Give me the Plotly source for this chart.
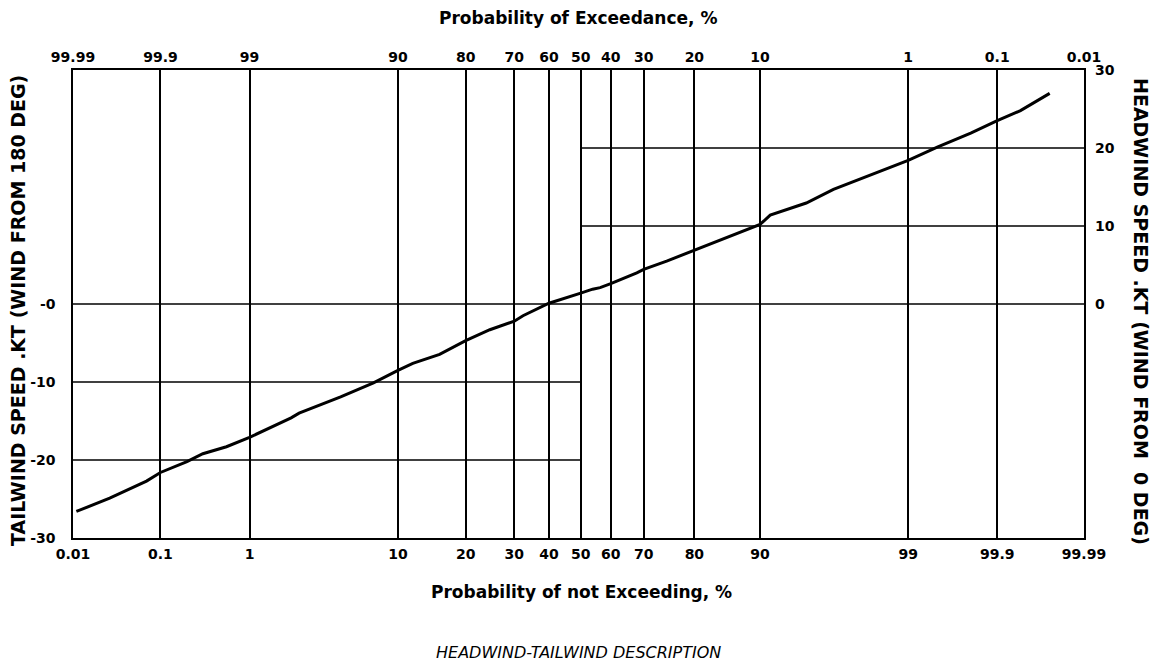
import numpy as np
import plotly.graph_objects as go
from statistics import NormalDist

# ---- axis definition (probability of NOT exceeding, %) ----
TICK_PCT = [0.01, 0.1, 1, 10, 20, 30, 40, 50, 60, 70, 80, 90, 99, 99.9, 99.99]
BOTTOM_LABELS = ["0.01", "0.1", "1", "10", "20", "30", "40", "50", "60", "70", "80", "90", "99", "99.9", "99.99"]
TOP_LABELS = ["99.99", "99.9", "99", "90", "80", "70", "60", "50", "40", "30", "20", "10", "1", "0.1", "0.01"]
# fractional position of each probability tick along the chart's probability scale
TICK_POS = [0.0, 0.0865, 0.1746, 0.3214, 0.3884, 0.4365, 0.4708, 0.5022,
            0.5319, 0.5645, 0.6146, 0.6796, 0.8261, 0.9142, 1.0]

LEFT_TICKS = [-30, -20, -10, 0]
LEFT_LABELS = ["-30", "-20", "-10", "-0"]
RIGHT_TICKS = [0, 10, 20, 30]
RIGHT_LABELS = ["0", "10", "20", "30"]

# ---- data: probability of not exceeding (%) vs wind speed (kt) ----
PROB = [0.011, 0.0275, 0.071, 0.1, 0.21, 0.32, 0.58, 1, 2.1, 2.4, 4.6, 7.3, 10,
        11.8, 15.6, 17.3, 20, 24.7, 30, 32.4, 40, 50, 54, 56.5, 60, 68, 70,
        74.8, 80, 85.5, 90, 91.2, 94.6, 96.4, 98.2, 99, 99.5, 99.79, 99.9,
        99.944, 99.974]
SPEED = [-26.6, -24.9, -22.7, -21.6, -20.2, -19.2, -18.3, -17.1, -14.6, -14.0,
         -11.9, -10.1, -8.5, -7.6, -6.45, -5.7, -4.7, -3.3, -2.2, -1.5, 0.1,
         1.4, 1.9, 2.1, 2.6, 4.0, 4.45, 5.5, 6.9, 8.45, 10.2, 11.4, 12.95,
         14.7, 16.8, 18.4, 20.1, 21.9, 23.5, 24.8, 27.0]

nd = NormalDist()
TICK_Z = [nd.inv_cdf(p / 100.0) for p in TICK_PCT]


def prob_scale(pcts):
    z = [nd.inv_cdf(p / 100.0) for p in pcts]
    return np.interp(z, TICK_Z, TICK_POS)


x_curve = prob_scale(PROB)
x50 = float(prob_scale([50])[0])

FONT = "DejaVu Sans, Liberation Sans, Arial, sans-serif"

fig = go.Figure()
fig.add_trace(go.Scatter(x=x_curve, y=SPEED, mode="lines",
                         line=dict(color="black", width=3),
                         showlegend=False, hoverinfo="skip",
                         xaxis="x", yaxis="y"))
# invisible trace so the top / right axes are drawn
fig.add_trace(go.Scatter(x=x_curve, y=SPEED, mode="lines",
                         line=dict(color="rgba(0,0,0,0)", width=0),
                         showlegend=False, hoverinfo="skip",
                         xaxis="x2", yaxis="y2"))

# horizontal reference lines
shapes = [dict(type="line", xref="x", yref="y", x0=0, x1=1, y0=0, y1=0,
               line=dict(color="black", width=1.5))]
for yv in [-10, -20]:
    shapes.append(dict(type="line", xref="x", yref="y", x0=0, x1=x50, y0=yv, y1=yv,
                       line=dict(color="black", width=1.5)))
for yv in [10, 20]:
    shapes.append(dict(type="line", xref="x", yref="y", x0=x50, x1=1, y0=yv, y1=yv,
                       line=dict(color="black", width=1.5)))

tickfont = dict(family=FONT, size=14, color="black", weight="bold")

fig.update_layout(
    width=1157, height=664,
    margin=dict(l=73, r=73, t=70, b=126),
    paper_bgcolor="white", plot_bgcolor="white",
    shapes=shapes,
    xaxis=dict(range=[0, 1], tickvals=TICK_POS, ticktext=BOTTOM_LABELS,
               showgrid=True, gridcolor="black", gridwidth=1.5, zeroline=False,
               showline=True, linecolor="black", linewidth=1.5, mirror=True,
               ticks="", tickfont=tickfont, ticklabelstandoff=2),
    xaxis2=dict(range=[0, 1], overlaying="x", side="top", matches="x",
                tickvals=TICK_POS, ticktext=TOP_LABELS, showgrid=False,
                zeroline=False, ticks="", tickfont=tickfont, ticklabelstandoff=4),
    yaxis=dict(range=[-30, 30], tickvals=LEFT_TICKS, ticktext=LEFT_LABELS,
               showgrid=False, zeroline=False, showline=True, linecolor="black",
               linewidth=1.5, mirror=True, ticks="", tickfont=tickfont,
               ticklabelstandoff=13),
    yaxis2=dict(range=[-30, 30], overlaying="y", side="right",
                tickvals=RIGHT_TICKS, ticktext=RIGHT_LABELS, showgrid=False,
                zeroline=False, ticks="", tickfont=tickfont, ticklabelstandoff=10),
    annotations=[
        dict(text="Probability of Exceedance, %", xref="paper", yref="paper",
             x=0.4995, y=1.111, xanchor="center", yanchor="middle", showarrow=False,
             font=dict(family=FONT, size=17, color="black", weight="bold")),
        dict(text="Probability of not Exceeding, %", xref="paper", yref="paper",
             x=0.503, y=-0.1154, xanchor="center", yanchor="middle", showarrow=False,
             font=dict(family=FONT, size=17, color="black", weight="bold")),
        dict(text="HEADWIND-TAILWIND DESCRIPTION", xref="paper", yref="paper",
             x=0.5, y=-0.2436, xanchor="center", yanchor="middle", showarrow=False,
             font=dict(family=FONT, size=16, color="black", style="italic")),
        dict(text="TAILWIND SPEED .KT (WIND FROM 180 DEG)", xref="paper", yref="paper",
             x=-0.0544, y=0.485, xanchor="center", yanchor="middle", showarrow=False,
             textangle=-90,
             font=dict(family=FONT, size=19, color="black", weight="bold")),
        dict(text="HEADWIND SPEED .KT (WIND FROM  0 DEG)", xref="paper", yref="paper",
             x=1.0564, y=0.485, xanchor="center", yanchor="middle", showarrow=False,
             textangle=90,
             font=dict(family=FONT, size=19, color="black", weight="bold")),
    ],
)

fig.write_html("out.html")
